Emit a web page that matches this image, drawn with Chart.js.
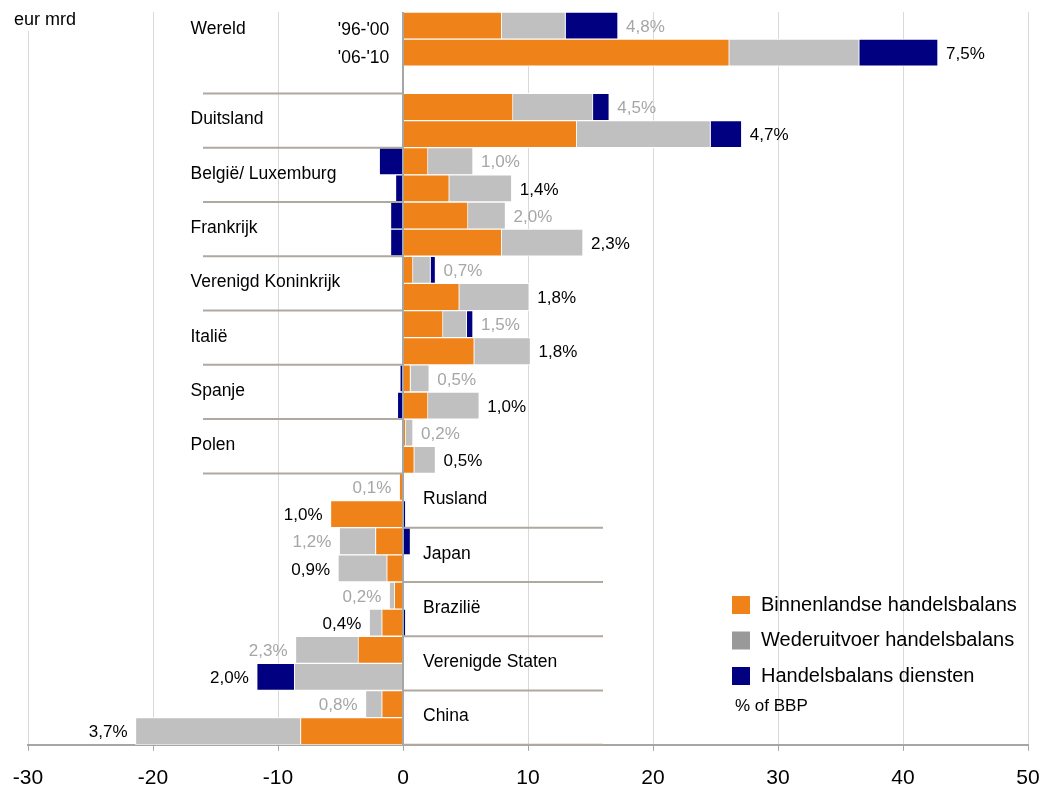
<!DOCTYPE html>
<html>
<head>
<meta charset="utf-8">
<script src="https://cdn.jsdelivr.net/npm/chart.js@4/dist/chart.umd.min.js"></script>
<style>
  html, body { margin: 0; padding: 0; background: #fff; }
  #wrap { width: 1043px; height: 787px; position: relative; }
</style>
</head>
<body>
<div id="wrap"><canvas id="handelsbalans"></canvas></div>
<script>
// countries, top to bottom, and the two periods shown per country
const countries = ['Wereld', 'Duitsland', 'België/ Luxemburg', 'Frankrijk', 'Verenigd Koninkrijk', 'Italië',
  'Spanje', 'Polen', 'Rusland', 'Japan', 'Brazilië', 'Verenigde Staten', 'China'];
const periods = ["'96-'00", "'06-'10"];

// eur mrd
const binnen96 = [7.9, 8.8, 2.0, 5.2, 0.8, 3.2, 0.6, 0.2, -0.3, -2.2, -0.7, -3.6, -1.7];
const binnen06 = [26.1, 13.9, 3.7, 7.9, 4.5, 5.7, 2.0, 0.9, -5.8, -1.3, -1.7, 0, -8.2];
const wederuit96 = [5.1, 6.4, 3.6, 3.0, 1.4, 1.9, 1.5, 0.6, 0, -2.9, -0.4, -5.0, -1.3];
const wederuit06 = [10.4, 10.7, 5.0, 6.5, 5.6, 4.5, 4.1, 1.7, 0, -3.9, -1.0, -8.7, -13.2];
const diensten96 = [4.2, 1.3, -1.9, -1.0, 0.4, 0.5, -0.25, 0, 0, 0.6, 0, 0, 0];
const diensten06 = [6.3, 2.5, -0.6, -1.0, 0, 0, -0.45, 0, 0.2, 0, 0.2, -3.0, 0];

// % of BBP labels next to the bars
const pct96 = ['4,8%', '4,5%', '1,0%', '2,0%', '0,7%', '1,5%', '0,5%', '0,2%', '0,1%', '1,2%', '0,2%', '2,3%', '0,8%'];
const pct06 = ['7,5%', '4,7%', '1,4%', '2,3%', '1,8%', '1,8%', '1,0%', '0,5%', '1,0%', '0,9%', '0,4%', '2,0%', '3,7%'];

const xTicks = [-30, -20, -10, 0, 10, 20, 30, 40, 50];
const flipAt = 8; // from Rusland on the names sit right of zero

const colOrange = '#f0821a';
const colGray = '#c0c0c0';
const colNavy = '#000080';

// build the rows: two per country, an empty one after Wereld
let rowLabels = [];
let rowOf = []; // [country, period] for every row, null for the blank one
let firstRow = [];
countries.forEach((c, i) => {
  firstRow.push(rowLabels.length);
  rowLabels.push(c + ' ' + periods[0]); rowOf.push([i, 0]);
  rowLabels.push(c + ' ' + periods[1]); rowOf.push([i, 1]);
  if (i === 0) { rowLabels.push(''); rowOf.push(null); }
});

function rows(a96, a06) {
  return rowOf.map(r => r === null ? null : (r[1] === 0 ? a96[r[0]] : a06[r[0]]));
}

Chart.defaults.font.family = "'Liberation Sans', Arial, sans-serif";

const annotate = {
  id: 'annotate',
  afterDatasetsDraw(chart) {
    const { ctx, chartArea, scales: { x, y } } = chart;
    const rowH = y.getPixelForValue(1) - y.getPixelForValue(0);
    ctx.save();

    // short tick marks under the axis (the long tickLength only makes room for the labels)
    ctx.strokeStyle = '#a6a6a6';
    ctx.lineWidth = 1;
    xTicks.forEach(v => {
      const px = Math.round(x.getPixelForValue(v)) + 0.5;
      ctx.beginPath();
      ctx.moveTo(px, chartArea.bottom);
      ctx.lineTo(px, chartArea.bottom + 6);
      ctx.stroke();
    });

    // separator lines between the countries
    ctx.strokeStyle = '#b0a99f';
    ctx.lineWidth = 2;
    countries.forEach((c, i) => {
      const top = y.getPixelForValue(firstRow[i]) - rowH / 2;
      if (i >= 1 && i <= flipAt) {
        ctx.beginPath();
        ctx.moveTo(x.getPixelForValue(-16), top);
        ctx.lineTo(x.getPixelForValue(0), top);
        ctx.stroke();
      }
      if (i >= flipAt) {
        ctx.beginPath();
        ctx.moveTo(x.getPixelForValue(0), top + 2 * rowH);
        ctx.lineTo(x.getPixelForValue(16), top + 2 * rowH);
        ctx.stroke();
      }
    });

    // country names
    ctx.fillStyle = '#000';
    ctx.font = "17.5px 'Liberation Sans', Arial, sans-serif";
    ctx.textBaseline = 'middle';
    ctx.textAlign = 'left';
    countries.forEach((c, i) => {
      let yy = y.getPixelForValue(firstRow[i]) + rowH / 2 - 1;
      if (i === 0) yy = y.getPixelForValue(firstRow[i]) + 4;
      const xx = i < flipAt ? x.getPixelForValue(-17) : x.getPixelForValue(1.6);
      ctx.fillText(c, xx, yy);
    });

    // period labels next to Wereld
    ctx.textAlign = 'right';
    periods.forEach((p, k) => {
      ctx.fillText(p, x.getPixelForValue(-1.1), y.getPixelForValue(k) + 5);
    });

    // % of BBP labels
    ctx.font = "17px 'Liberation Sans', Arial, sans-serif";
    rowOf.forEach((r, idx) => {
      if (r === null) return;
      let pos = 0, neg = 0;
      chart.data.datasets.forEach(ds => {
        const v = ds.data[idx] || 0;
        if (v > 0) pos += v; else neg += v;
      });
      const txt = r[1] === 0 ? pct96[r[0]] : pct06[r[0]];
      ctx.fillStyle = r[1] === 0 ? '#a6a6a6' : '#000';
      const yy = y.getPixelForValue(idx) + 1.5;
      if (pos >= -neg) {
        ctx.textAlign = 'left';
        ctx.fillText(txt, x.getPixelForValue(pos) + 8, yy);
      } else {
        ctx.textAlign = 'right';
        ctx.fillText(txt, x.getPixelForValue(neg) - 8, yy);
      }
    });

    // unit in the top left corner
    ctx.fillStyle = '#fff';
    ctx.fillRect(10, 0, 80, 31);
    ctx.fillStyle = '#000';
    ctx.textAlign = 'left';
    ctx.font = "18px 'Liberation Sans', Arial, sans-serif";
    ctx.fillText('eur mrd', 14, 20);

    // legend, drawn over the grid like the original
    const legendCols = [colOrange, '#999999', colNavy];
    ctx.font = "20px 'Liberation Sans', Arial, sans-serif";
    chart.data.datasets.forEach((ds, k) => {
      const ly = 605 + k * 35.5;
      ctx.fillStyle = legendCols[k];
      ctx.fillRect(732, ly - 9, 18, 18);
      ctx.fillStyle = '#000';
      ctx.fillText(ds.label, 761, ly);
    });
    ctx.font = "17px 'Liberation Sans', Arial, sans-serif";
    ctx.fillText('% of BBP', 735, 706);

    ctx.restore();
  }
};

new Chart(document.getElementById('handelsbalans'), {
  type: 'bar',
  data: {
    labels: rowLabels,
    datasets: [
      { label: 'Binnenlandse handelsbalans', data: rows(binnen96, binnen06), backgroundColor: colOrange },
      { label: 'Wederuitvoer handelsbalans', data: rows(wederuit96, wederuit06), backgroundColor: colGray },
      { label: 'Handelsbalans diensten', data: rows(diensten96, diensten06), backgroundColor: colNavy }
    ]
  },
  options: {
    indexAxis: 'y',
    responsive: true,
    maintainAspectRatio: false,
    animation: false,
    layout: { padding: { left: 28, right: 15, top: 12, bottom: -4 } },
    datasets: {
      bar: { barPercentage: 1, categoryPercentage: 1, borderColor: '#fff', borderWidth: 1 }
    },
    scales: {
      x: {
        stacked: true,
        min: -30,
        max: 50,
        afterBuildTicks: axis => { axis.ticks = xTicks.map(v => ({ value: v })); },
        ticks: { color: '#000', font: { size: 21 }, padding: 0, maxRotation: 0 },
        grid: {
          color: c => c.tick && c.tick.value === 0 ? '#a6a6a6' : '#d9d9d9',
          lineWidth: c => c.tick && c.tick.value === 0 ? 2 : 1,
          tickLength: 21,
          tickColor: 'rgba(0,0,0,0)'
        },
        border: { color: '#a6a6a6', width: 2 }
      },
      y: {
        stacked: true,
        display: false
      }
    },
    plugins: {
      legend: { display: false },
      tooltip: { enabled: false }
    }
  },
  plugins: [annotate]
});
</script>
</body>
</html>
